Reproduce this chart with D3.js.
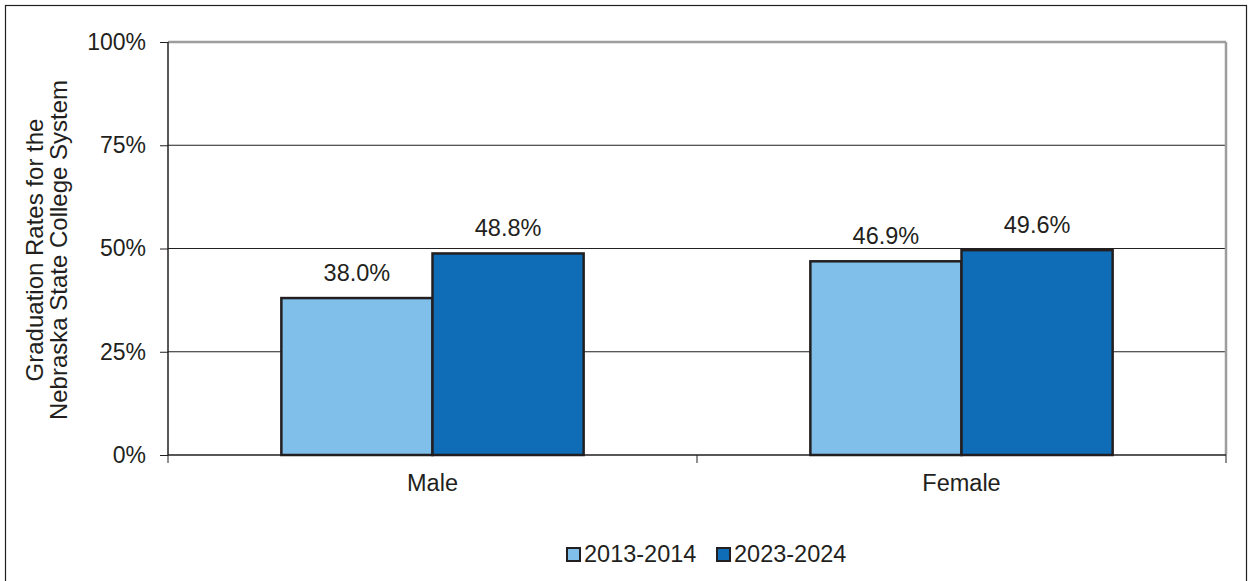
<!DOCTYPE html>
<html>
<head>
<meta charset="utf-8">
<script src="https://cdn.jsdelivr.net/npm/d3@7"></script>
<style>
  body { margin: 0; background: #fff; }
  text { font-family: "Liberation Sans", Arial, sans-serif; fill: #231f20; }
</style>
</head>
<body>
<div id="chart"></div>
<script>
var categories = ["Male", "Female"];
var seriesNames = ["2013-2014", "2023-2024"];
var values2013 = [38.0, 46.9];
var values2023 = [48.8, 49.6];
var yTicks = [0, 25, 50, 75, 100];
var colors = ["#7fbfe9", "#0e6db6"];

var W = 1254, H = 581;
var margin = {top: 42, right: 28, bottom: 126, left: 168};
var width = W - margin.left - margin.right;
var height = H - margin.top - margin.bottom;

var svg = d3.select("#chart").append("svg")
    .attr("width", W)
    .attr("height", H);

// outer frame
svg.append("rect")
    .attr("x", 5.5).attr("y", 5.5)
    .attr("width", 1241).attr("height", 600)
    .attr("fill", "none").attr("stroke", "#231f20").attr("stroke-width", 1.2);

var g = svg.append("g")
    .attr("transform", "translate(" + margin.left + "," + margin.top + ")");

var x0 = d3.scaleBand().domain(categories).range([0, width]).paddingInner(0).paddingOuter(0);
var x1 = d3.scaleBand().domain(seriesNames).range([0, x0.bandwidth()]).paddingInner(0).paddingOuter(0.75);
var y = d3.scaleLinear().domain([0, 100]).range([height, 0]);

// gridlines
g.selectAll(".grid").data(yTicks.filter(function(d){ return d > 0 && d < 100; }))
  .enter().append("line")
    .attr("x1", 0).attr("x2", width)
    .attr("y1", function(d){ return y(d); }).attr("y2", function(d){ return y(d); })
    .attr("stroke", "#231f20").attr("stroke-width", 1);

// top and right border of plot area
g.append("line").attr("x1", 0).attr("x2", width).attr("y1", 0).attr("y2", 0)
    .attr("stroke", "#9d9d9d").attr("stroke-width", 2.5);
g.append("line").attr("x1", width).attr("x2", width).attr("y1", 0).attr("y2", height)
    .attr("stroke", "#9d9d9d").attr("stroke-width", 2.5);

var data = [];
categories.forEach(function(c, i){
    data.push({cat: c, series: seriesNames[0], value: values2013[i], color: colors[0]});
    data.push({cat: c, series: seriesNames[1], value: values2023[i], color: colors[1]});
});

g.selectAll(".bar").data(data).enter().append("rect")
    .attr("class", "bar")
    .attr("x", function(d){ return x0(d.cat) + x1(d.series); })
    .attr("y", function(d){ return y(d.value); })
    .attr("width", x1.bandwidth())
    .attr("height", function(d){ return height - y(d.value); })
    .attr("fill", function(d){ return d.color; })
    .attr("stroke", "#231f20").attr("stroke-width", 2.5);

g.selectAll(".lbl").data(data).enter().append("text")
    .attr("x", function(d){ return x0(d.cat) + x1(d.series) + x1.bandwidth()/2; })
    .attr("y", function(d){ return y(d.value) - 17; })
    .attr("text-anchor", "middle")
    .style("font-size", "23.5px")
    .text(function(d){ return d.value.toFixed(1) + "%"; });

// y axis
var yAxis = d3.axisLeft(y).tickValues(yTicks).tickSize(8).tickPadding(14)
    .tickFormat(function(d){ return d + "%"; });
var ya = g.append("g").call(yAxis);
ya.select(".domain").attr("stroke", "#231f20").attr("stroke-width", 1.5).attr("d", "M0," + height + "V0");
ya.selectAll(".tick line").attr("stroke", "#231f20");
ya.selectAll(".tick text").style("font-size", "23px").attr("fill", "#231f20")
    .style("font-family", "'Liberation Sans', Arial, sans-serif");

// x axis
var xa = g.append("g").attr("transform", "translate(0," + height + ")");
xa.append("line").attr("x1", 0).attr("x2", width).attr("y1", 0).attr("y2", 0)
    .attr("stroke", "#231f20").attr("stroke-width", 1.5);
xa.selectAll(".xt").data([0].concat(categories.map(function(c){ return x0(c) + x0.bandwidth(); })))
  .enter().append("line")
    .attr("x1", function(d){ return d; }).attr("x2", function(d){ return d; })
    .attr("y1", 0).attr("y2", 8).attr("stroke", "#231f20");
xa.selectAll(".xl").data(categories).enter().append("text")
    .attr("x", function(d){ return x0(d) + x0.bandwidth()/2; })
    .attr("y", 36)
    .attr("text-anchor", "middle")
    .style("font-size", "23.5px")
    .text(function(d){ return d; });

// y title
var yt = svg.append("text")
    .attr("transform", "translate(43,250) rotate(-90)")
    .attr("text-anchor", "middle")
    .style("font-size", "24px");
yt.append("tspan").attr("x", 0).attr("dy", 0).text("Graduation Rates for the");
yt.append("tspan").attr("x", 0).attr("dy", 24).text("Nebraska State College System");

// legend
var legendX = [567, 717];
var leg = svg.selectAll(".leg").data(seriesNames).enter().append("g")
    .attr("transform", function(d, i){ return "translate(" + legendX[i] + ",548)"; });
leg.append("rect").attr("x", 0).attr("y", 0).attr("width", 13).attr("height", 13)
    .attr("fill", function(d, i){ return colors[i]; })
    .attr("stroke", "#231f20").attr("stroke-width", 2);
leg.append("text").attr("x", 17).attr("y", 14)
    .style("font-size", "23.5px")
    .text(function(d){ return d; });
</script>
</body>
</html>
